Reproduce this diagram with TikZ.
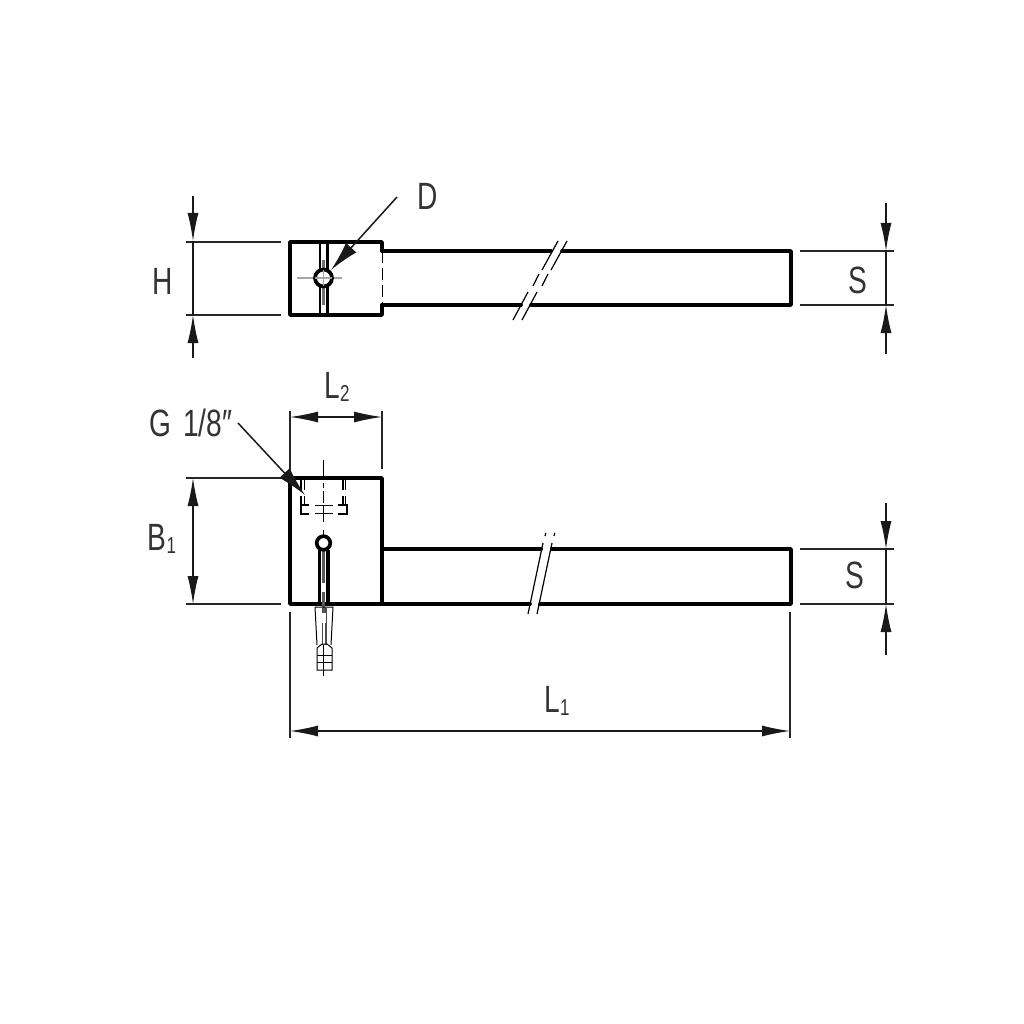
\documentclass[tikz,border=0pt]{standalone}
\usepackage{fontspec}
\setmainfont[FakeStretch=0.74]{Liberation Sans}
\usetikzlibrary{arrows.meta}

\tikzset{
	outline/.style={line width=3.7pt, line cap=round, line join=round},
	slotline/.style={line width=2.8pt},
	dimline/.style={line width=1.2pt, black!90},
	extline/.style={line width=1.4pt, black!85},
	thinline/.style={line width=1pt},
	brk/.style={line width=1.2pt},
	centre/.style={line width=1.6pt, black!35},
	dimlabel/.style={inner sep=0pt, text=black!80, font=\fontsize{38}{38}\selectfont},
	dimtip/.tip={Latex[length=28pt, width=11pt]},
	leadtip/.tip={Latex[length=30pt, width=14pt]}
}
\newcommand{\subnum}[1]{\raisebox{-3pt}{\fontsize{23}{23}\selectfont #1}}

\begin{document}
\begin{tikzpicture}[x=1pt, y=-1pt]
	\useasboundingbox (0,0) rectangle (1024,1024);
	\fill[white] (0,0) rectangle (1024,1024);

	% top view
	\draw[slotline] (320,242) -- (320,315);
	\draw[slotline] (327.5,242) -- (327.5,315);
	\draw[line width=3pt, black!55] (323.7,260) -- (323.7,305);
	\draw[centre] (297,278) -- (342,278);
	\draw[outline] (382,251) -- (382,242) -- (290,242) -- (290,315) -- (382,315) -- (382,305);
	\draw[thinline, dashed, dash pattern=on 12pt off 5pt] (382,251) -- (382,305);
	\draw[outline] (382,251) -- (551,251);
	\draw[outline] (562,251) -- (791,251) -- (791,305) -- (531,305);
	\draw[outline] (521,305) -- (382,305);
	\draw[outline, fill=white] (323.5,278) circle (8.5);
	\draw[centre] (315,278) -- (332,278);
	\draw[centre] (323.5,270) -- (323.5,286);

	\foreach \off in {0,9} {
		\draw[brk] (558+\off,241) -- (542+\off,270);
		\draw[brk] (539+\off,274) -- (533+\off,286);
		\draw[brk] (528+\off,292) -- (513+\off,320);
	}

	% lower view
	\draw[outline] (382,549) -- (382,478) -- (290,478) -- (290,604) -- (530,604);
	\draw[outline] (540,604) -- (791,604) -- (791,549) -- (552,549);
	\draw[outline] (541,549) -- (382,549);
	\draw[outline] (382,549) -- (382,604);
	\foreach \off in {0,9} {
		\draw[brk] (543+\off,543) -- (528+\off,614);
		\draw[brk] (545.8+\off,533) -- (545+\off,536);
	}

	% thread in the lower view
	\draw[thinline, dash pattern=on 20pt off 3pt on 5pt off 3pt on 12pt off 3pt] (323.5,460) -- (323.5,522);
	\draw[thinline] (315,505) -- (333,505);
	\draw[thinline] (315,513.5) -- (333,513.5);
	\draw[line width=1.5pt] (309,505) -- (301,505) -- (301,514) -- (309,514);
	\draw[line width=1.5pt] (338,505) -- (347,505) -- (347,514) -- (338,514);
	\foreach \xa in {301,304.5,343,345.5} {
		\draw[line width=1.2pt] (\xa,480) -- (\xa,490);
		\draw[line width=1.2pt] (\xa,496) -- (\xa,504);
	}

	% slot and hexagon key
	\draw[thinline] (323.5,530) -- (323.5,536);
	\draw[line width=3.4pt] (319.5,550) -- (319.5,604);
	\draw[line width=3.4pt] (328,550) -- (328,604);
	\draw[line width=3.4pt, black!65] (323.7,550) -- (323.7,583);
	\draw[line width=3.4pt, black!65] (323.7,592) -- (323.7,613);
	\draw[outline, fill=white] (323.5,543) circle (6.8);
	\draw[thinline] (315,607) -- (333,607) -- (331,645);
	\draw[thinline] (315,607) -- (317,645);
	\draw[line width=1.8pt, black!70] (322.5,607) -- (322.5,645);
	\draw[line width=1.8pt, black!70] (326,607) -- (326,645);
	\fill[white] (321.5,613) rectangle (326,623);
	\draw[thinline] (317,670) -- (317,648) -- (322,644) -- (327,644) -- (332,648) -- (332,670) -- cycle;
	\draw[thinline] (317,655) -- (332,655);
	\draw[thinline] (317,662.5) -- (332,662.5);
	\draw[thinline] (323.5,645) -- (323.5,676);

	% free ends of the dimensions
	\coordinate (hA) at (193,241);
	\coordinate (hB) at (193,315);
	\coordinate (hAo) at (193,196);
	\coordinate (hBo) at (193,358);
	\coordinate (sA) at (886,251);
	\coordinate (sB) at (886,305);
	\coordinate (sAo) at (886,203);
	\coordinate (sBo) at (886,354);
	\coordinate (slA) at (886,549);
	\coordinate (slB) at (886,604);
	\coordinate (slAo) at (886,503);
	\coordinate (slBo) at (886,655);
	\coordinate (bA) at (193,478);
	\coordinate (bB) at (193,604);
	\coordinate (ltA) at (290,417);
	\coordinate (ltB) at (382,417);
	\coordinate (loA) at (290,731);
	\coordinate (loB) at (790,731);
	\coordinate (dEnd) at (397,197);
	\coordinate (dTip) at (331,270);
	\coordinate (gEnd) at (238,423);
	\coordinate (gTip) at (305,495);

	% extension lines
	\draw[extline] (186,242) -- (281,242);
	\draw[extline] (186,315) -- (281,315);
	\draw[extline] (800,251) -- (894,251);
	\draw[extline] (800,305) -- (894,305);
	\draw[extline] (800,549) -- (894,549);
	\draw[extline] (800,604) -- (894,604);
	\draw[extline] (186,478) -- (290,478);
	\draw[extline] (186,604) -- (281,604);
	\draw[extline] (290,411) -- (290,478);
	\draw[extline] (382,411) -- (382,469);
	\draw[extline] (290,612) -- (290,738);
	\draw[extline] (790,612) -- (790,738);

	% dimensions
	\draw[dimline, -dimtip] (hAo) -- (hA);
	\draw[dimline, -dimtip] (hBo) -- (hB);
	\draw[dimline] (hA) -- (hB);
	\draw[dimline, -dimtip] (sAo) -- (sA);
	\draw[dimline, -dimtip] (sBo) -- (sB);
	\draw[dimline] (sA) -- (sB);
	\draw[dimline, -dimtip] (slAo) -- (slA);
	\draw[dimline, -dimtip] (slBo) -- (slB);
	\draw[dimline] (slA) -- (slB);
	\draw[dimline, dimtip-dimtip] (bA) -- (bB);
	\draw[dimline, dimtip-dimtip] (ltA) -- (ltB);
	\draw[dimline, dimtip-dimtip] (loA) -- (loB);
	\draw[dimline, line width=1.5pt, -leadtip] (dEnd) -- (dTip);
	\draw[dimline, line width=1.5pt, -leadtip] (gEnd) -- (gTip);

	% labels
	\node[dimlabel] (labelH)  at (163,281)   {H};
	\node[dimlabel] (labelD)  at (428,196)   {D};
	\node[dimlabel] (labelS)  at (858,280)   {S};
	\node[dimlabel] (labelSl) at (855,575)   {S};
	\node[dimlabel] (labelB)  at (162,539)   {B\subnum{1}};
	\node[dimlabel] (labelLt) at (337,387)   {L\subnum{2}};
	\node[dimlabel] (labelLo) at (557,701)   {L\subnum{1}};
	\node[dimlabel] (labelG)  at (191,423)   {G\hspace{4pt} 1/8″};
\end{tikzpicture}
\end{document}
